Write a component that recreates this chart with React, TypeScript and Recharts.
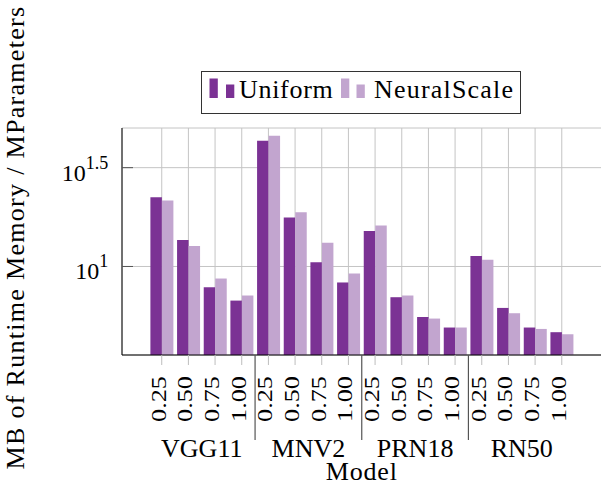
import React from 'react';
import { BarChart, Bar, XAxis, YAxis, CartesianGrid, Legend, Label } from 'recharts';

const MODELS = ['VGG11', 'MNV2', 'PRN18', 'RN50'];
const WIDTHS = ['0.25', '0.50', '0.75', '1.00'];
const UNIFORM = [22.4, 13.6, 7.85, 6.72, 43.3, 17.7, 10.5, 8.3, 15.1, 6.99, 5.55, 4.91, 11.3, 6.17, 4.91, 4.65];
const NEURALSCALE = [21.6, 12.7, 8.69, 7.13, 45.8, 18.8, 13.2, 9.22, 16.1, 7.13, 5.45, 4.91, 10.8, 5.8, 4.83, 4.54];
const SERIES_NAMES = ['Uniform', 'NeuralScale'];
const Y_TICK_EXPONENTS = [1, 1.5];
const Y_DOMAIN: [number, number] = [3.565, 50.2];
const X_TITLE = 'Model';
const Y_TITLE = 'MB of Runtime Memory / MParameters';

const COLORS = ['#7b3294', '#c2a5cf'];
const FONT = "'Liberation Serif', 'Times New Roman', serif";
const Y_TICKS = Y_TICK_EXPONENTS.map((e) => Math.pow(10, e));

const data = MODELS.flatMap((model, gi) =>
  WIDTHS.map((width, wi) => ({
    model,
    width,
    uniform: UNIFORM[gi * WIDTHS.length + wi],
    neural: NEURALSCALE[gi * WIDTHS.length + wi],
  }))
);

const WidthTick = (props: any) => {
  const { x, y, payload, index } = props;
  const i = payload?.index ?? index;
  const half = payload?.offset ?? 13.33;
  return (
    <g>
      {i % WIDTHS.length === 0 && i > 0 && (
        <line x1={x - half} x2={x - half} y1={y - 21} y2={y + 64} stroke="#555" strokeWidth={1.2} />
      )}
      <text
        transform={`translate(${x + 4},${y}) rotate(-90) scale(1.25,1)`}
        textAnchor="end"
        fontSize={21}
        fontFamily={FONT}
        fill="#000"
      >
        {payload.value}
      </text>
    </g>
  );
};

const GroupTick = (props: any) => {
  const { x, y, payload } = props;
  return (
    <text x={x} y={y + 21.5} textAnchor="middle" fontSize={26} fontFamily={FONT} fill="#000">
      {payload.value}
    </text>
  );
};

const PowTick = (props: any) => {
  const { x, y, payload } = props;
  const exp = Math.round(Math.log10(payload.value) * 10) / 10;
  return (
    <text x={x} y={y + 13} textAnchor="end" fontSize={24} fontFamily={FONT} fill="#000">
      10
      <tspan dy={-12} fontSize={18}>
        {String(exp)}
      </tspan>
    </text>
  );
};

const LegendBox = () => (
  <div
    style={{
      width: 320,
      height: 43,
      boxSizing: 'border-box',
      border: '1px solid #333',
      background: '#fff',
    }}
  >
    <svg width={318} height={41} style={{ display: 'block' }}>
      <rect x={7.5} y={6.5} width={8.3} height={19.5} fill={COLORS[0]} />
      <rect x={24} y={12.5} width={8.3} height={13.5} fill={COLORS[0]} />
      <text x={37} y={26} fontSize={26} fontFamily={FONT} letterSpacing={0.7} fill="#000">
        {SERIES_NAMES[0]}
      </text>
      <rect x={139} y={6.5} width={8.3} height={19.5} fill={COLORS[1]} />
      <rect x={154.5} y={12.5} width={8.3} height={13.5} fill={COLORS[1]} />
      <text x={172} y={26} fontSize={26} fontFamily={FONT} letterSpacing={1.2} fill="#000">
        {SERIES_NAMES[1]}
      </text>
    </svg>
  </div>
);

const YTitle = (props: any) => {
  const vb = props.viewBox || { x: 0, y: 128, width: 122, height: 227 };
  return (
    <text
      transform={`translate(${vb.x + 23.5},${vb.y + vb.height / 2 - 4}) rotate(-90)`}
      textAnchor="middle"
      fontSize={26}
      letterSpacing={1.3}
      fontFamily={FONT}
      fill="#000"
    >
      {Y_TITLE}
    </text>
  );
};

const XTitle = (props: any) => {
  const vb = props.viewBox || { x: 122, y: 435, width: 480, height: 49 };
  return (
    <text
      x={vb.x + vb.width / 2}
      y={vb.y + 44.5}
      textAnchor="middle"
      fontSize={26}
      letterSpacing={0.8}
      fontFamily={FONT}
      fill="#000"
    >
      {X_TITLE}
    </text>
  );
};

export default function App() {
  return (
    <div style={{ position: 'absolute', left: 0, top: 0, width: 601, height: 484, overflow: 'hidden', background: '#fff' }}>
      <BarChart
        width={610}
        height={484}
        data={data}
        margin={{ top: 85, right: 8.5, bottom: 0, left: 0 }}
        barGap={0}
        barSize={11.5}
      >
        <CartesianGrid xAxisId={0} yAxisId={0} stroke="#c4c4c4" />
        <XAxis
          xAxisId={0}
          dataKey="width"
          padding={{ left: 26.4, right: 26.4 }}
          height={80}
          tickSize={10}
          tickMargin={11}
          interval={0}
          tickLine={{ stroke: '#bdbdbd' }}
          axisLine={{ stroke: '#000' }}
          tick={<WidthTick />}
        />
        <XAxis
          xAxisId={1}
          dataKey="model"
          allowDuplicatedCategory={false}
          padding={{ left: 26.4, right: 26.4 }}
          height={49}
          tickSize={0}
          tickMargin={0}
          interval={0}
          tickLine={false}
          axisLine={false}
          tick={<GroupTick />}
        >
          <Label content={<XTitle />} />
        </XAxis>
        <XAxis
          xAxisId={2}
          orientation="top"
          dataKey="width"
          height={0}
          tick={false}
          tickLine={false}
          axisLine={{ stroke: '#000' }}
        />
        <YAxis
          yAxisId={0}
          type="number"
          scale="log"
          domain={Y_DOMAIN}
          allowDataOverflow
          ticks={Y_TICKS}
          width={122}
          tickSize={-11}
          tickMargin={24.7}
          tickLine={{ stroke: '#555' }}
          axisLine={{ stroke: '#000' }}
          tick={<PowTick />}
        >
          <Label content={<YTitle />} />
        </YAxis>
        <YAxis
          yAxisId={1}
          orientation="right"
          type="number"
          scale="log"
          domain={Y_DOMAIN}
          allowDataOverflow
          ticks={Y_TICKS}
          width={0}
          tickSize={-9}
          tick={false}
          tickLine={{ stroke: '#555' }}
          axisLine={{ stroke: '#000' }}
        />
        <Legend
          verticalAlign="top"
          content={<LegendBox />}
          wrapperStyle={{ top: 71, left: 201, width: 'auto' }}
        />
        <Bar xAxisId={0} yAxisId={0} dataKey="uniform" name={SERIES_NAMES[0]} fill={COLORS[0]} isAnimationActive={false} />
        <Bar xAxisId={0} yAxisId={0} dataKey="neural" name={SERIES_NAMES[1]} fill={COLORS[1]} isAnimationActive={false} />
      </BarChart>
    </div>
  );
}
